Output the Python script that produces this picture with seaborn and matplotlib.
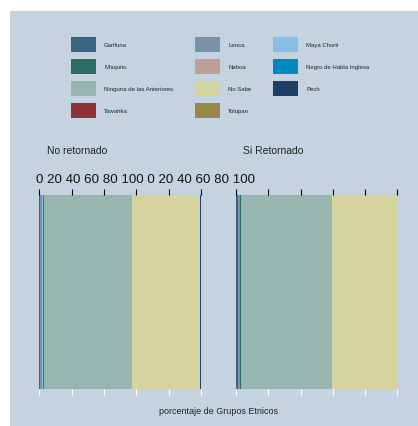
import matplotlib
matplotlib.use("Agg")
import matplotlib.pyplot as plt
from matplotlib.patches import Patch, Rectangle
import seaborn as sns
import pandas as pd
import numpy as np

groups = ["Garifuna", "Lenca", "Maya Chorti", "Misquito", "Nahoa",
          "Negro de Habla Inglesa", "Ninguna de las Anteriores", "No Sabe",
          "Pech", "Tawahka", "Tolupan"]
colors = ["#3d6480", "#7a91a8", "#86bfe6", "#2b6b66", "#c09e9a",
          "#0089bf", "#97b6b0", "#d5d39f", "#1b4166", "#8f3338", "#9c8645"]
facets = ["No retornado", "Si Retornado"]
pct_no_retornado = [0.7, 1.0, 0.3, 0.3, 0.1, 0.3, 54.4, 42.4, 0.2, 0.1, 0.2]
pct_si_retornado = [1.2, 1.0, 0.5, 0.1, 0.1, 0.2, 56.4, 40.1, 0.0, 0.0, 0.4]
ticks = [0, 20, 40, 60, 80, 100]
xlabel = "porcentaje de Grupos Etnicos"

df = pd.concat([
    pd.DataFrame({"facet": facets[0], "etnia": groups, "pct": pct_no_retornado}),
    pd.DataFrame({"facet": facets[1], "etnia": groups, "pct": pct_si_retornado}),
])

sns.set_theme(style="white")
plt.rcParams["font.family"] = ["Liberation Sans", "DejaVu Sans"]

W, H = 418, 427
fig = plt.figure(figsize=(W / 100, H / 100), dpi=100)
fig.patch.set_facecolor("white")
bg = "#c5d3e0"
fig.patches.append(Rectangle((10 / W, 0), 1 - 10 / W, 1 - 12 / H,
                             transform=fig.transFigure, facecolor=bg,
                             edgecolor="none", zorder=-10))

pal = dict(zip(groups, colors))
lefts_px = [39.3, 236.0]
right_px = [201.0, 397.3]
title_x = [47.3, 243.3]
for i, f in enumerate(facets):
    ax = fig.add_axes([lefts_px[i] / W, 1 - 390 / H,
                       (right_px[i] - lefts_px[i]) / W, (390 - 196) / H])
    ax.set_facecolor("none")
    sub = df[df["facet"] == f].copy()
    sub["left"] = sub["pct"].cumsum() - sub["pct"]
    for _, r in sub.iterrows():
        ax.barh(0, r["pct"], left=r["left"], height=1.0,
                color=pal[r["etnia"]], linewidth=0)
    ax.set_xlim(0, 100)
    ax.set_ylim(-0.5, 0.5)
    ax.set_yticks([])
    ax.set_xticks(ticks)
    ax.set_xticklabels([])
    for s in ax.spines.values():
        s.set_visible(False)
    ax.tick_params(axis="x", bottom=True, top=False, labelbottom=False,
                   direction="out", length=4, width=0.8, color="white")
    axt = ax.twiny()
    axt.set_xlim(0, 100)
    axt.set_xticks(ticks)
    axt.set_xticklabels([])
    for s in axt.spines.values():
        s.set_visible(False)
    axt.tick_params(axis="x", top=True, bottom=False, labeltop=False,
                    direction="out", length=4, width=0.8, color="black")
    fig.text(title_x[i] / W, 1 - 151 / H, f,
             fontsize=7.5, ha="left", va="center", color="#222222")

label_str = " ".join(str(t) for t in ticks)
fig.text(36 / W, 1 - 180 / H, label_str + " " + label_str, fontsize=9.6,
         ha="left", va="center", color="#111111")

fig.text(218.5 / W, 1 - 412 / H, xlabel, fontsize=6.5, ha="center",
         va="center", color="#222222")

# legend: row-major alphabetical with 3 columns
handles = [Patch(facecolor=c, edgecolor="none", label=g) for g, c in zip(groups, colors)]
order = [0, 3, 6, 9, 1, 4, 7, 10, 2, 5, 8]
leg = fig.legend([handles[k] for k in order], [groups[k] for k in order],
                 ncol=3, loc="upper left", bbox_to_anchor=(71 / W, 1 - 38 / H),
                 frameon=False, fontsize=4.3, borderpad=0, borderaxespad=0,
                 handlelength=4.19, handleheight=3.49, handletextpad=1.34,
                 labelspacing=1.17, columnspacing=3.68)
for t in leg.get_texts():
    t.set_color("#222222")

fig.savefig("out.png", dpi=100, facecolor="white")
